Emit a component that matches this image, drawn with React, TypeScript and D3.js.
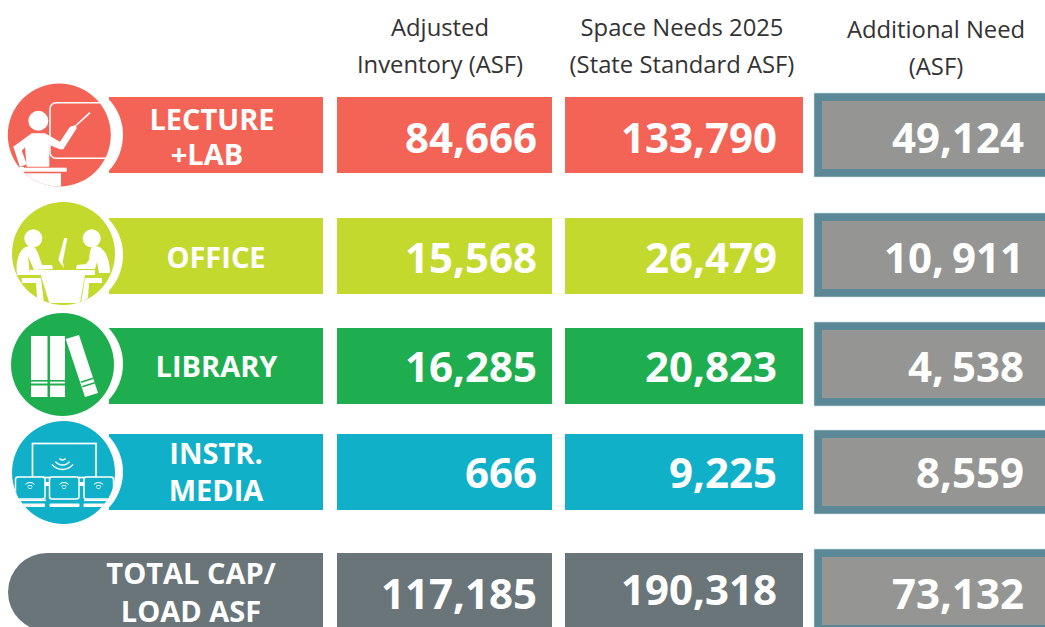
import React from "react";
import * as d3 from "d3";

const categories = ["lecture", "office", "library", "media", "total"];
const labelLines = [["LECTURE", "+LAB"], ["OFFICE"], ["LIBRARY"], ["INSTR.", "MEDIA"], ["TOTAL CAP/", "LOAD ASF"]];
const adjustedInventory = [84666, 15568, 16285, 666, 117185];
const spaceNeeds = [133790, 26479, 20823, 9225, 190318];
const additionalNeedText = ["49,124", "10, 911", "4, 538", "8,559", "73,132"];
const headers = [
  ["Adjusted", "Inventory (ASF)"],
  ["Space Needs 2025", "(State Standard ASF)"],
  ["Additional Need", "(ASF)"],
];
const rowColors = ["#F36356", "#C4D92E", "#1EAE50", "#10B0C8", "#6A757A"];

const FONT = "'Open Sans', sans-serif";
const fmt = d3.format(",");
const rowTop = d3.scaleOrdinal<string, number>().domain(categories).range([97, 218, 328, 434, 553]);
const needTop = d3.scaleOrdinal<string, number>().domain(categories).range([93, 213, 322, 430, 549]);
const rowBase = d3.scaleOrdinal<string, number>().domain(categories).range([153, 272.5, 382, 488, 607]);
const rowColor = d3.scaleOrdinal<string, string>().domain(categories).range(rowColors);
const BAR_H = 76;
const labelCx = [212, 216, 216.5, 216, 191];
const labelBase = [[130, 165], [267.5], [376.7], [463.5, 501], [584, 621.5]];

const wifi = (cx: number, cy: number, radii: number[], half: number, w: number, up = false) => {
  const a = d3.arc();
  const mid = up ? 0 : Math.PI;
  return radii.map((r, i) => (
    <path
      key={i}
      transform={`translate(${cx},${cy})`}
      fill="#fff"
      d={a({ innerRadius: r - w / 2, outerRadius: r + w / 2, startAngle: mid - half, endAngle: mid + half }) as string}
    />
  ));
};

function Icon({ kind }: { kind: string }) {
  const c = "#fff";
  const col = rowColor(kind);
  if (kind === "lecture") {
    return (
      <g>
        <circle cx={71} cy={135} r={52} fill="#fff" />
        <circle cx={59.3} cy={135} r={51.5} fill={col} />
        <clipPath id="clipL"><circle cx={59.3} cy={135} r={51.5} /></clipPath>
        <g clipPath="url(#clipL)">
          <rect x={50} y={102.7} width={70} height={55.6} rx={6} fill="none" stroke={c} strokeWidth={1.5} />
          <circle cx={38.3} cy={120.7} r={10} fill={c} />
          <path d="M13.3,146.7 L31.7,133.3 L45,133.3 L60,141.7 L70,126.7 L76,125 L76.7,128.3 L63.3,149.3 L60,149.3 L49.3,145 L49.3,166.7 L26.7,166.7 L25,147.3 L21.7,150.7 L26.7,164 L20,167.3 Z" fill={c} />
          <line x1={76} y1={125.5} x2={90} y2={112.7} stroke={c} strokeWidth={1.6} />
          <rect x={0} y={167.7} width={66.7} height={4} fill={c} />
          <rect x={0} y={167} width={24} height={8} fill={c} />
          <rect x={0} y={173.3} width={61} height={20} fill={c} />
        </g>
      </g>
    );
  }
  if (kind === "office") {
    return (
      <g>
        <circle cx={71} cy={255} r={52} fill="#fff" />
        <circle cx={63.5} cy={253.5} r={51.5} fill={col} />
        <clipPath id="clipO"><circle cx={63.5} cy={253.5} r={51.5} /></clipPath>
        <g clipPath="url(#clipO)">
          <circle cx={33.3} cy={238.3} r={9} fill={c} />
          <circle cx={91.7} cy={238.3} r={9} fill={c} />
          <path d="M17,275 C15,260 20,246 30,246 C35,246 37,250 39,256 L42,265 L52,265 L53,269 L34,270 L28,256 L30,275 Z" fill={c} />
          <path d="M110,273 C110,258 104,246 95,246 C90,246 90,252 89,260 L86,264 L77,265 L76,269 L95,269 L97,262 L99,273 Z" fill={c} />
          <path d="M64.3,237.7 L67.3,238.3 L62.7,261.7 L64,268 L61,264 L58.3,260 Z" fill={c} />
          <rect x={30} y={270} width={65} height={5} fill={c} />
          <path d="M40.7,275 L85,275 L80,303 L49.3,303 Z" fill={c} />
          <path d="M21.7,278 L41,278 L44,303 L37,298 L36,283 L22,283 Z" fill={c} />
          <path d="M102,278 L85,278 L81,303 L88,298 L89,283 L102,283 Z" fill={c} />
        </g>
      </g>
    );
  }
  if (kind === "library") {
    return (
      <g>
        <circle cx={71} cy={364} r={52} fill="#fff" />
        <circle cx={62.5} cy={364.5} r={51.5} fill={col} />
        <rect x={31} y={336} width={16.5} height={61} fill={c} />
        <rect x={50} y={336} width={15} height={61} fill={c} />
        <rect x={31} y={380} width={34} height={1.6} fill={col} />
        <rect x={31} y={383.5} width={34} height={2} fill={col} />
        <path d="M65.7,339 L79,335 L98,393 L85,397 Z" fill={c} />
        <path d="M80.5,381.5 L93,377.5 L93.5,379 L81,383 Z M82,386 L94.5,382 L95,383.5 L82.5,387.5 Z" fill={col} />
      </g>
    );
  }
  return (
    <g>
      <circle cx={71} cy={472} r={52} fill="#fff" />
      <circle cx={63.5} cy={472.5} r={51.5} fill={col} />
      <clipPath id="clipM"><circle cx={63.5} cy={472.5} r={51.5} /></clipPath>
      <g clipPath="url(#clipM)">
        <rect x={32.5} y={443.5} width={63.5} height={34} fill="none" stroke={c} strokeWidth={1.7} />
        {wifi(62.5, 456, [4, 9, 13.5], 0.9, 1.5)}
        <rect x={44} y={482} width={7} height={4} fill={c} />
        <rect x={78} y={482} width={7} height={4} fill={c} />
        {[15.5, 49.5, 84].map((x) => (
          <g key={x}>
            <rect x={x} y={477} width={29.5} height={22} rx={2.5} fill={col} stroke={c} strokeWidth={1.5} />
            {wifi(x + 14.5, 489, [3.5, 6.5], 0.8, 0.8, true)}
            {wifi(x + 14.5, 486, [2.5], 1, 0.8)}
          </g>
        ))}
        <rect x={10} y={499.5} width={36} height={1.6} fill={c} />
        <rect x={84} y={499.5} width={36} height={1.6} fill={c} />
        {[[10, 35], [49.5, 30], [83.5, 30]].map(([x, w]) => (
          <rect key={x} x={x} y={503.5} width={w} height={3.5} rx={1} fill={c} />
        ))}
      </g>
    </g>
  );
}

export default function App() {
  const col1 = { x: 337, w: 215 };
  const col2 = { x: 565, w: 238 };
  const col3 = { x: 814, w: 231 };
  const valueStyle = { fontFamily: FONT, fontWeight: 700, fontSize: 42, fill: "#fff", textAnchor: "end" as const };
  const headerStyle = { fontFamily: FONT, fontSize: 23.8, fill: "#333", textAnchor: "middle" as const };
  const headerCx = [440, 682, 936];
  const headerY = [[35.5, 72.5], [35.5, 72.5], [38, 75]];
  const totalShift = [2, -2, 2];
  return (
    <svg width={1045} height={627} style={{ position: "fixed", left: 0, top: 0, background: "#fff" }}>
      {headers.map((lines, i) =>
        lines.map((t, j) => (
          <text key={t} x={headerCx[i]} y={headerY[i][j]} {...headerStyle}>{t}</text>
        ))
      )}
      {categories.map((cat, i) => {
        const y = rowTop(cat);
        const col = rowColor(cat);
        const isTotal = cat === "total";
        const h = isTotal ? 78 : BAR_H;
        const base = rowBase(cat);
        const lines = labelLines[i];
        const ny = needTop(cat);
        const shift = (k: number) => (isTotal ? totalShift[k] : 0);
        return (
          <g key={cat}>
            {isTotal ? (
              <path d={`M323,${y} H47 A39,39 0 0 0 47,${y + 78} H323 Z`} fill={col} />
            ) : (
              <rect x={109} y={y} width={214} height={h} fill={col} />
            )}
            {!isTotal && <Icon kind={cat} />}
            {lines.map((t, j) => (
              <text key={t} x={labelCx[i] + (cat === "lecture" && j === 1 ? -5 : 0)} y={labelBase[i][j]} fontFamily={FONT} fontWeight={700} fontSize={29} fill="#fff" textAnchor="middle">{t}</text>
            ))}
            <rect x={col1.x} y={y} width={col1.w} height={h} fill={col} />
            <rect x={col2.x} y={y} width={col2.w} height={h} fill={col} />
            <rect x={col3.x} y={ny} width={col3.w + 2} height={84} fill="#5B8896" stroke="#cfe0e4" strokeWidth={0.6} />
            <rect x={col3.x + 8} y={ny + 8} width={col3.w - 8} height={68} fill="#959694" />
            <text x={537} y={base + shift(0)} {...valueStyle}>{fmt(adjustedInventory[i])}</text>
            <text x={777} y={base + shift(1)} {...valueStyle}>{fmt(spaceNeeds[i])}</text>
            <text x={1024} y={base + shift(2)} wordSpacing={-3} {...valueStyle}>{additionalNeedText[i]}</text>
          </g>
        );
      })}
    </svg>
  );
}
